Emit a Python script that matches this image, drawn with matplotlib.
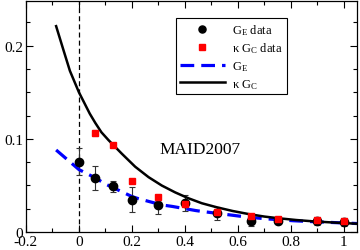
import matplotlib
matplotlib.use("Agg")
import matplotlib.pyplot as plt
from matplotlib.ticker import MultipleLocator

plt.rcParams['font.family'] = 'Liberation Serif'
plt.rcParams['mathtext.fontset'] = 'custom'
plt.rcParams['mathtext.rm'] = 'Liberation Serif'
plt.rcParams['mathtext.it'] = 'Liberation Serif:italic'

# G_E data (black circles)
ge_x = [0.0, 0.06, 0.127, 0.2, 0.3, 0.4, 0.52, 0.65, 0.75, 0.9, 1.0]
ge_y = [0.0756, 0.058, 0.049, 0.0348, 0.0294, 0.0315, 0.020, 0.0122, 0.012, 0.0115, 0.011]
ge_err = [0.0148, 0.013, 0.006, 0.013, 0.0105, 0.0085, 0.007, 0.0055, 0.004, 0.0045, 0.0042]

# kappa G_C data (red squares)
gc_x = [0.06, 0.127, 0.2, 0.3, 0.4, 0.52, 0.65, 0.75, 0.9, 1.0]
gc_y = [0.106, 0.0935, 0.055, 0.038, 0.0297, 0.0212, 0.0176, 0.014, 0.0129, 0.0122]
gc_err = [0.003, 0.0015, 0.0015, 0.0015, 0.002, 0.002, 0.0015, 0.0015, 0.0015, 0.0015]

# MAID2007 curves
kgc_x = [-0.086, -0.058, -0.034, 0.0, 0.041, 0.062, 0.085, 0.112, 0.162, 0.2125,
         0.263, 0.313, 0.363, 0.413, 0.464, 0.52, 0.58, 0.644, 0.70, 0.75,
         0.82, 0.887, 0.986, 1.05]
kgc_y = [0.221, 0.195, 0.173, 0.150, 0.127, 0.117, 0.107, 0.0985, 0.084, 0.070,
         0.0588, 0.0498, 0.0425, 0.0362, 0.0308, 0.0265, 0.0225, 0.019, 0.0165, 0.0148,
         0.0128, 0.0113, 0.0097, 0.0088]

ge_cx = [-0.086, 0.0, 0.062, 0.103, 0.137, 0.2, 0.225, 0.313, 0.352, 0.44,
         0.464, 0.55, 0.638, 0.72, 0.81, 0.9, 1.01, 1.05]
ge_cy = [0.088, 0.067, 0.058, 0.051, 0.0465, 0.038, 0.0357, 0.029, 0.0274, 0.023,
         0.022, 0.019, 0.0158, 0.0138, 0.012, 0.0108, 0.0095, 0.009]

fig = plt.figure(figsize=(3.6, 2.51), dpi=100)
ax = fig.add_axes([0.072, 0.072, 0.92, 0.92])

ax.axvline(0, color='black', lw=0.9, ls=(0, (4, 2.5)), zorder=1)

ax.errorbar(gc_x, gc_y, yerr=gc_err, fmt='none', ecolor='#888888',
            elinewidth=0.8, capsize=2.5, capthick=0.8, zorder=2)
ax.errorbar(ge_x, ge_y, yerr=ge_err, fmt='none', ecolor='#333333',
            elinewidth=0.8, capsize=2.5, capthick=0.8, zorder=2)

ax.plot(ge_x, ge_y, 'o', color='black', ms=6, ls='none', zorder=4,
        label=r'G$_\mathrm{E}$ data')
ax.plot(gc_x, gc_y, 's', color='#ff0000', ms=5, ls='none', zorder=5,
        label=r'κ G$_\mathrm{C}$ data')
ax.plot(ge_cx, ge_cy, color='#0000ff', lw=2.3, ls=(0, (4.3, 2.2)), zorder=3,
        label=r'G$_\mathrm{E}$')
ax.plot(kgc_x, kgc_y, color='black', lw=1.8, zorder=3,
        label=r'κ G$_\mathrm{C}$')

ax.set_xlim(-0.2, 1.05)
ax.set_ylim(0, 0.248)
ax.xaxis.set_minor_locator(MultipleLocator(0.1))
ax.yaxis.set_minor_locator(MultipleLocator(0.025))
ax.tick_params(which='both', direction='in', top=True, right=True, labelsize=11, pad=2)
ax.tick_params(which='major', length=5, width=0.8)
ax.tick_params(which='minor', length=3, width=0.8)

xt = [-0.2, 0, 0.2, 0.4, 0.6, 0.8, 1]
ax.set_xticks(xt)
ax.set_xticklabels(['-0.2', '0', '0.2', '0.4', '0.6', '0.8', '1'])
ax.set_yticks([0, 0.1, 0.2])
ax.set_yticklabels(['0', '0.1', '0.2'])
for s in ax.spines.values():
    s.set_linewidth(0.9)

ax.text(0.457, 0.089, 'MAID2007', fontsize=12.5, ha='center', va='center')

leg = ax.legend(loc='upper left', bbox_to_anchor=(0.453, 0.925), fontsize=9,
                frameon=True, fancybox=False, edgecolor='black', framealpha=1,
                handlelength=3.6, handletextpad=0.6, borderpad=0.3,
                labelspacing=0.3, borderaxespad=0, markerscale=0.85)
leg.get_frame().set_linewidth(0.8)

fig.savefig('out.png', dpi=100)
